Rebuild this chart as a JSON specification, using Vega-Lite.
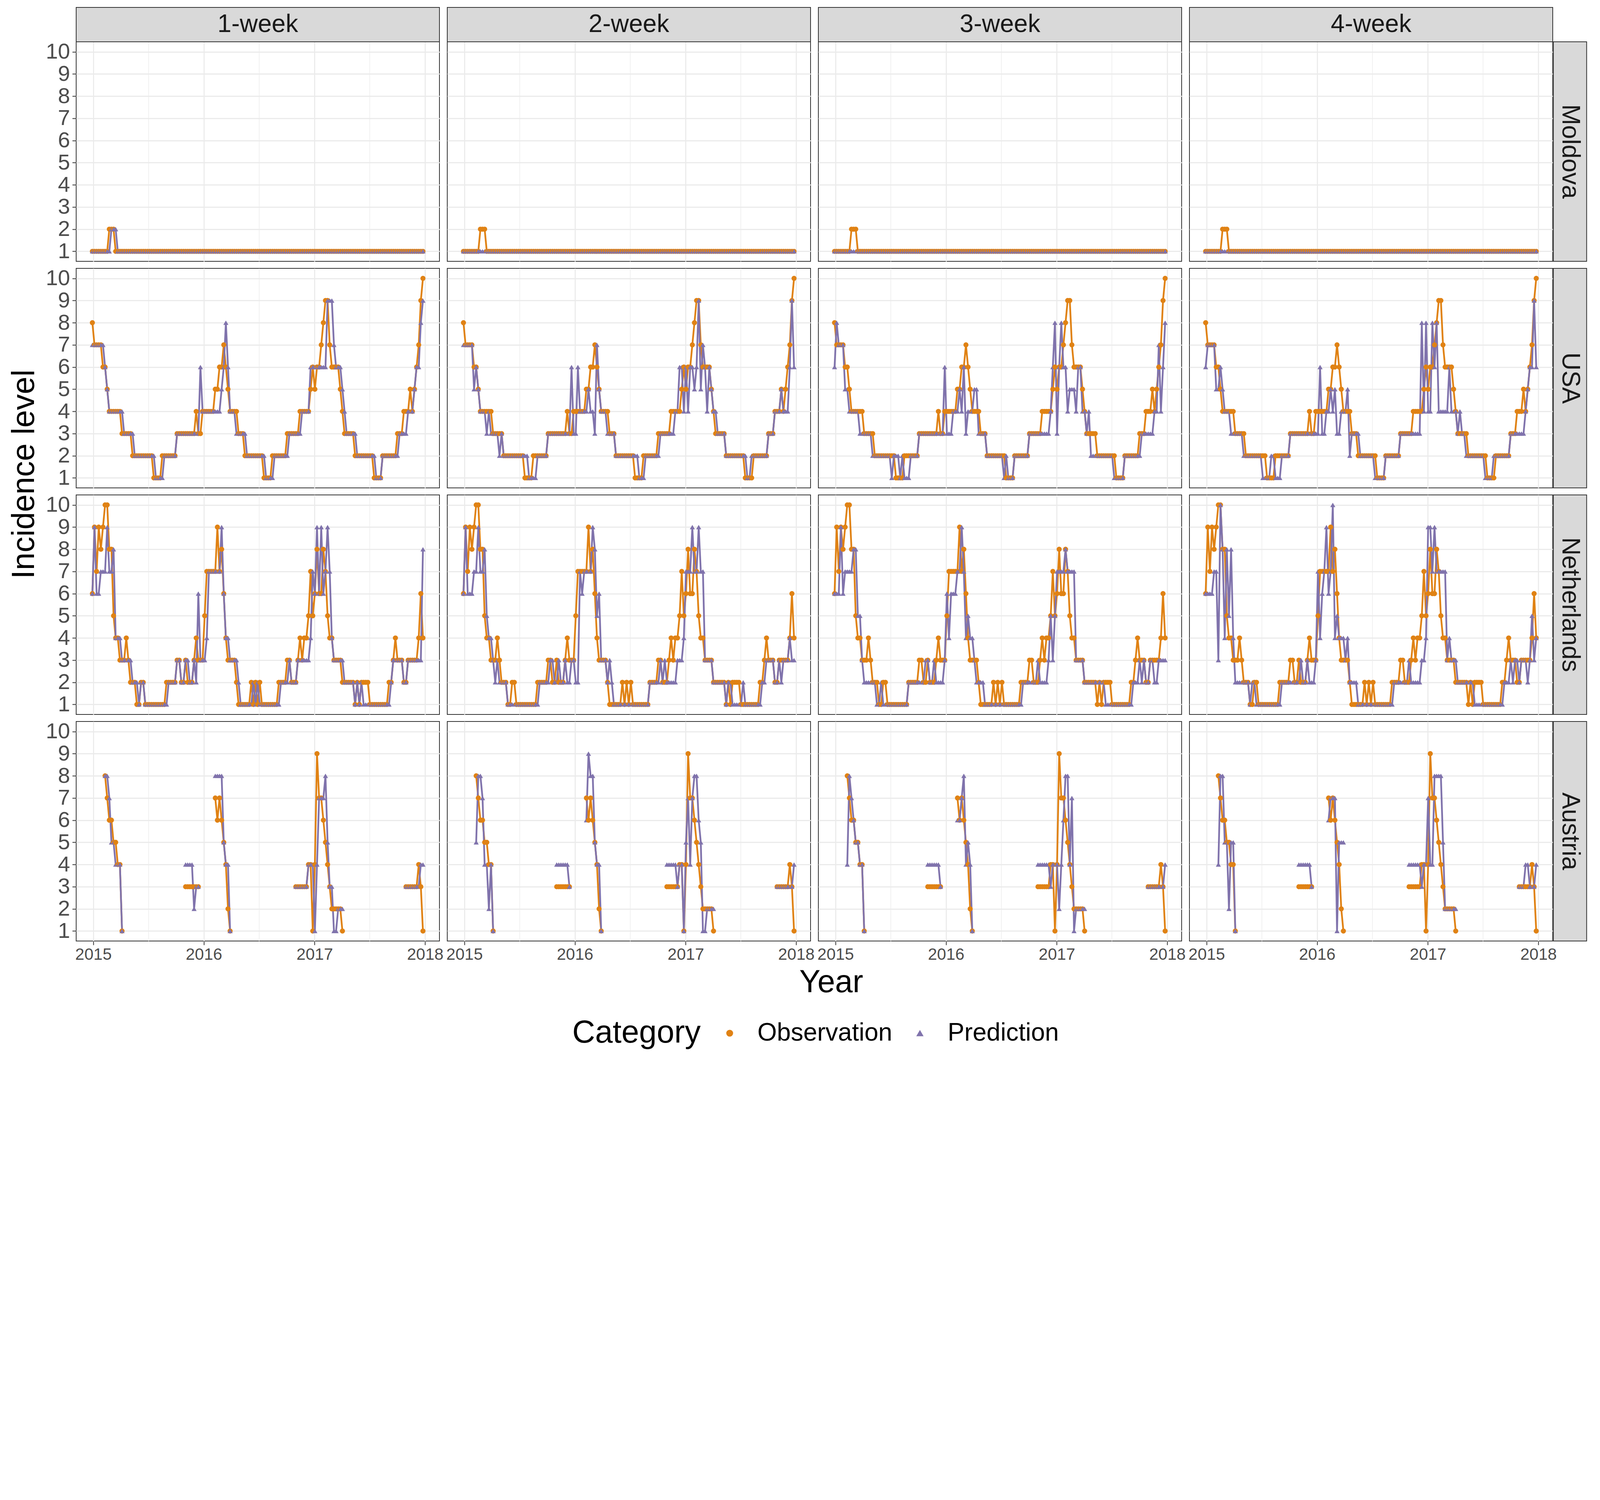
{
"$schema": "https://vega.github.io/schema/vega-lite/v6.json",
"background": "white",
"padding": {"left": 21, "top": 17, "right": 10, "bottom": 10},
"data": {"values": [
{"r":"M","d":"2014-12-29","o":1,"p1":1,"p2":1,"p3":1,"p4":1},
{"r":"M","d":"2015-01-05","o":1,"p1":1,"p2":1,"p3":1,"p4":1},
{"r":"M","d":"2015-01-12","o":1,"p1":1,"p2":1,"p3":1,"p4":1},
{"r":"M","d":"2015-01-19","o":1,"p1":1,"p2":1,"p3":1,"p4":1},
{"r":"M","d":"2015-01-26","o":1,"p1":1,"p2":1,"p3":1,"p4":1},
{"r":"M","d":"2015-02-02","o":1,"p1":1,"p2":1,"p3":1,"p4":1},
{"r":"M","d":"2015-02-09","o":1,"p1":1,"p2":1,"p3":1,"p4":1},
{"r":"M","d":"2015-02-16","o":1,"p1":1,"p2":1,"p3":1,"p4":1},
{"r":"M","d":"2015-02-23","o":2,"p1":1,"p2":1,"p3":1,"p4":1},
{"r":"M","d":"2015-03-02","o":2,"p1":2,"p2":1,"p3":1,"p4":1},
{"r":"M","d":"2015-03-09","o":2,"p1":2,"p2":1,"p3":1,"p4":1},
{"r":"M","d":"2015-03-16","o":1,"p1":2,"p2":1,"p3":1,"p4":1},
{"r":"M","d":"2015-03-23","o":1,"p1":1,"p2":1,"p3":1,"p4":1},
{"r":"M","d":"2015-03-30","o":1,"p1":1,"p2":1,"p3":1,"p4":1},
{"r":"M","d":"2015-04-06","o":1,"p1":1,"p2":1,"p3":1,"p4":1},
{"r":"M","d":"2015-04-13","o":1,"p1":1,"p2":1,"p3":1,"p4":1},
{"r":"M","d":"2015-04-20","o":1,"p1":1,"p2":1,"p3":1,"p4":1},
{"r":"M","d":"2015-04-27","o":1,"p1":1,"p2":1,"p3":1,"p4":1},
{"r":"M","d":"2015-05-04","o":1,"p1":1,"p2":1,"p3":1,"p4":1},
{"r":"M","d":"2015-05-11","o":1,"p1":1,"p2":1,"p3":1,"p4":1},
{"r":"M","d":"2015-05-18","o":1,"p1":1,"p2":1,"p3":1,"p4":1},
{"r":"M","d":"2015-05-25","o":1,"p1":1,"p2":1,"p3":1,"p4":1},
{"r":"M","d":"2015-06-01","o":1,"p1":1,"p2":1,"p3":1,"p4":1},
{"r":"M","d":"2015-06-08","o":1,"p1":1,"p2":1,"p3":1,"p4":1},
{"r":"M","d":"2015-06-15","o":1,"p1":1,"p2":1,"p3":1,"p4":1},
{"r":"M","d":"2015-06-22","o":1,"p1":1,"p2":1,"p3":1,"p4":1},
{"r":"M","d":"2015-06-29","o":1,"p1":1,"p2":1,"p3":1,"p4":1},
{"r":"M","d":"2015-07-06","o":1,"p1":1,"p2":1,"p3":1,"p4":1},
{"r":"M","d":"2015-07-13","o":1,"p1":1,"p2":1,"p3":1,"p4":1},
{"r":"M","d":"2015-07-20","o":1,"p1":1,"p2":1,"p3":1,"p4":1},
{"r":"M","d":"2015-07-27","o":1,"p1":1,"p2":1,"p3":1,"p4":1},
{"r":"M","d":"2015-08-03","o":1,"p1":1,"p2":1,"p3":1,"p4":1},
{"r":"M","d":"2015-08-10","o":1,"p1":1,"p2":1,"p3":1,"p4":1},
{"r":"M","d":"2015-08-17","o":1,"p1":1,"p2":1,"p3":1,"p4":1},
{"r":"M","d":"2015-08-24","o":1,"p1":1,"p2":1,"p3":1,"p4":1},
{"r":"M","d":"2015-08-31","o":1,"p1":1,"p2":1,"p3":1,"p4":1},
{"r":"M","d":"2015-09-07","o":1,"p1":1,"p2":1,"p3":1,"p4":1},
{"r":"M","d":"2015-09-14","o":1,"p1":1,"p2":1,"p3":1,"p4":1},
{"r":"M","d":"2015-09-21","o":1,"p1":1,"p2":1,"p3":1,"p4":1},
{"r":"M","d":"2015-09-28","o":1,"p1":1,"p2":1,"p3":1,"p4":1},
{"r":"M","d":"2015-10-05","o":1,"p1":1,"p2":1,"p3":1,"p4":1},
{"r":"M","d":"2015-10-12","o":1,"p1":1,"p2":1,"p3":1,"p4":1},
{"r":"M","d":"2015-10-19","o":1,"p1":1,"p2":1,"p3":1,"p4":1},
{"r":"M","d":"2015-10-26","o":1,"p1":1,"p2":1,"p3":1,"p4":1},
{"r":"M","d":"2015-11-02","o":1,"p1":1,"p2":1,"p3":1,"p4":1},
{"r":"M","d":"2015-11-09","o":1,"p1":1,"p2":1,"p3":1,"p4":1},
{"r":"M","d":"2015-11-16","o":1,"p1":1,"p2":1,"p3":1,"p4":1},
{"r":"M","d":"2015-11-23","o":1,"p1":1,"p2":1,"p3":1,"p4":1},
{"r":"M","d":"2015-11-30","o":1,"p1":1,"p2":1,"p3":1,"p4":1},
{"r":"M","d":"2015-12-07","o":1,"p1":1,"p2":1,"p3":1,"p4":1},
{"r":"M","d":"2015-12-14","o":1,"p1":1,"p2":1,"p3":1,"p4":1},
{"r":"M","d":"2015-12-21","o":1,"p1":1,"p2":1,"p3":1,"p4":1},
{"r":"M","d":"2015-12-28","o":1,"p1":1,"p2":1,"p3":1,"p4":1},
{"r":"M","d":"2016-01-04","o":1,"p1":1,"p2":1,"p3":1,"p4":1},
{"r":"M","d":"2016-01-11","o":1,"p1":1,"p2":1,"p3":1,"p4":1},
{"r":"M","d":"2016-01-18","o":1,"p1":1,"p2":1,"p3":1,"p4":1},
{"r":"M","d":"2016-01-25","o":1,"p1":1,"p2":1,"p3":1,"p4":1},
{"r":"M","d":"2016-02-01","o":1,"p1":1,"p2":1,"p3":1,"p4":1},
{"r":"M","d":"2016-02-08","o":1,"p1":1,"p2":1,"p3":1,"p4":1},
{"r":"M","d":"2016-02-15","o":1,"p1":1,"p2":1,"p3":1,"p4":1},
{"r":"M","d":"2016-02-22","o":1,"p1":1,"p2":1,"p3":1,"p4":1},
{"r":"M","d":"2016-02-29","o":1,"p1":1,"p2":1,"p3":1,"p4":1},
{"r":"M","d":"2016-03-07","o":1,"p1":1,"p2":1,"p3":1,"p4":1},
{"r":"M","d":"2016-03-14","o":1,"p1":1,"p2":1,"p3":1,"p4":1},
{"r":"M","d":"2016-03-21","o":1,"p1":1,"p2":1,"p3":1,"p4":1},
{"r":"M","d":"2016-03-28","o":1,"p1":1,"p2":1,"p3":1,"p4":1},
{"r":"M","d":"2016-04-04","o":1,"p1":1,"p2":1,"p3":1,"p4":1},
{"r":"M","d":"2016-04-11","o":1,"p1":1,"p2":1,"p3":1,"p4":1},
{"r":"M","d":"2016-04-18","o":1,"p1":1,"p2":1,"p3":1,"p4":1},
{"r":"M","d":"2016-04-25","o":1,"p1":1,"p2":1,"p3":1,"p4":1},
{"r":"M","d":"2016-05-02","o":1,"p1":1,"p2":1,"p3":1,"p4":1},
{"r":"M","d":"2016-05-09","o":1,"p1":1,"p2":1,"p3":1,"p4":1},
{"r":"M","d":"2016-05-16","o":1,"p1":1,"p2":1,"p3":1,"p4":1},
{"r":"M","d":"2016-05-23","o":1,"p1":1,"p2":1,"p3":1,"p4":1},
{"r":"M","d":"2016-05-30","o":1,"p1":1,"p2":1,"p3":1,"p4":1},
{"r":"M","d":"2016-06-06","o":1,"p1":1,"p2":1,"p3":1,"p4":1},
{"r":"M","d":"2016-06-13","o":1,"p1":1,"p2":1,"p3":1,"p4":1},
{"r":"M","d":"2016-06-20","o":1,"p1":1,"p2":1,"p3":1,"p4":1},
{"r":"M","d":"2016-06-27","o":1,"p1":1,"p2":1,"p3":1,"p4":1},
{"r":"M","d":"2016-07-04","o":1,"p1":1,"p2":1,"p3":1,"p4":1},
{"r":"M","d":"2016-07-11","o":1,"p1":1,"p2":1,"p3":1,"p4":1},
{"r":"M","d":"2016-07-18","o":1,"p1":1,"p2":1,"p3":1,"p4":1},
{"r":"M","d":"2016-07-25","o":1,"p1":1,"p2":1,"p3":1,"p4":1},
{"r":"M","d":"2016-08-01","o":1,"p1":1,"p2":1,"p3":1,"p4":1},
{"r":"M","d":"2016-08-08","o":1,"p1":1,"p2":1,"p3":1,"p4":1},
{"r":"M","d":"2016-08-15","o":1,"p1":1,"p2":1,"p3":1,"p4":1},
{"r":"M","d":"2016-08-22","o":1,"p1":1,"p2":1,"p3":1,"p4":1},
{"r":"M","d":"2016-08-29","o":1,"p1":1,"p2":1,"p3":1,"p4":1},
{"r":"M","d":"2016-09-05","o":1,"p1":1,"p2":1,"p3":1,"p4":1},
{"r":"M","d":"2016-09-12","o":1,"p1":1,"p2":1,"p3":1,"p4":1},
{"r":"M","d":"2016-09-19","o":1,"p1":1,"p2":1,"p3":1,"p4":1},
{"r":"M","d":"2016-09-26","o":1,"p1":1,"p2":1,"p3":1,"p4":1},
{"r":"M","d":"2016-10-03","o":1,"p1":1,"p2":1,"p3":1,"p4":1},
{"r":"M","d":"2016-10-10","o":1,"p1":1,"p2":1,"p3":1,"p4":1},
{"r":"M","d":"2016-10-17","o":1,"p1":1,"p2":1,"p3":1,"p4":1},
{"r":"M","d":"2016-10-24","o":1,"p1":1,"p2":1,"p3":1,"p4":1},
{"r":"M","d":"2016-10-31","o":1,"p1":1,"p2":1,"p3":1,"p4":1},
{"r":"M","d":"2016-11-07","o":1,"p1":1,"p2":1,"p3":1,"p4":1},
{"r":"M","d":"2016-11-14","o":1,"p1":1,"p2":1,"p3":1,"p4":1},
{"r":"M","d":"2016-11-21","o":1,"p1":1,"p2":1,"p3":1,"p4":1},
{"r":"M","d":"2016-11-28","o":1,"p1":1,"p2":1,"p3":1,"p4":1},
{"r":"M","d":"2016-12-05","o":1,"p1":1,"p2":1,"p3":1,"p4":1},
{"r":"M","d":"2016-12-12","o":1,"p1":1,"p2":1,"p3":1,"p4":1},
{"r":"M","d":"2016-12-19","o":1,"p1":1,"p2":1,"p3":1,"p4":1},
{"r":"M","d":"2016-12-26","o":1,"p1":1,"p2":1,"p3":1,"p4":1},
{"r":"M","d":"2017-01-02","o":1,"p1":1,"p2":1,"p3":1,"p4":1},
{"r":"M","d":"2017-01-09","o":1,"p1":1,"p2":1,"p3":1,"p4":1},
{"r":"M","d":"2017-01-16","o":1,"p1":1,"p2":1,"p3":1,"p4":1},
{"r":"M","d":"2017-01-23","o":1,"p1":1,"p2":1,"p3":1,"p4":1},
{"r":"M","d":"2017-01-30","o":1,"p1":1,"p2":1,"p3":1,"p4":1},
{"r":"M","d":"2017-02-06","o":1,"p1":1,"p2":1,"p3":1,"p4":1},
{"r":"M","d":"2017-02-13","o":1,"p1":1,"p2":1,"p3":1,"p4":1},
{"r":"M","d":"2017-02-20","o":1,"p1":1,"p2":1,"p3":1,"p4":1},
{"r":"M","d":"2017-02-27","o":1,"p1":1,"p2":1,"p3":1,"p4":1},
{"r":"M","d":"2017-03-06","o":1,"p1":1,"p2":1,"p3":1,"p4":1},
{"r":"M","d":"2017-03-13","o":1,"p1":1,"p2":1,"p3":1,"p4":1},
{"r":"M","d":"2017-03-20","o":1,"p1":1,"p2":1,"p3":1,"p4":1},
{"r":"M","d":"2017-03-27","o":1,"p1":1,"p2":1,"p3":1,"p4":1},
{"r":"M","d":"2017-04-03","o":1,"p1":1,"p2":1,"p3":1,"p4":1},
{"r":"M","d":"2017-04-10","o":1,"p1":1,"p2":1,"p3":1,"p4":1},
{"r":"M","d":"2017-04-17","o":1,"p1":1,"p2":1,"p3":1,"p4":1},
{"r":"M","d":"2017-04-24","o":1,"p1":1,"p2":1,"p3":1,"p4":1},
{"r":"M","d":"2017-05-01","o":1,"p1":1,"p2":1,"p3":1,"p4":1},
{"r":"M","d":"2017-05-08","o":1,"p1":1,"p2":1,"p3":1,"p4":1},
{"r":"M","d":"2017-05-15","o":1,"p1":1,"p2":1,"p3":1,"p4":1},
{"r":"M","d":"2017-05-22","o":1,"p1":1,"p2":1,"p3":1,"p4":1},
{"r":"M","d":"2017-05-29","o":1,"p1":1,"p2":1,"p3":1,"p4":1},
{"r":"M","d":"2017-06-05","o":1,"p1":1,"p2":1,"p3":1,"p4":1},
{"r":"M","d":"2017-06-12","o":1,"p1":1,"p2":1,"p3":1,"p4":1},
{"r":"M","d":"2017-06-19","o":1,"p1":1,"p2":1,"p3":1,"p4":1},
{"r":"M","d":"2017-06-26","o":1,"p1":1,"p2":1,"p3":1,"p4":1},
{"r":"M","d":"2017-07-03","o":1,"p1":1,"p2":1,"p3":1,"p4":1},
{"r":"M","d":"2017-07-10","o":1,"p1":1,"p2":1,"p3":1,"p4":1},
{"r":"M","d":"2017-07-17","o":1,"p1":1,"p2":1,"p3":1,"p4":1},
{"r":"M","d":"2017-07-24","o":1,"p1":1,"p2":1,"p3":1,"p4":1},
{"r":"M","d":"2017-07-31","o":1,"p1":1,"p2":1,"p3":1,"p4":1},
{"r":"M","d":"2017-08-07","o":1,"p1":1,"p2":1,"p3":1,"p4":1},
{"r":"M","d":"2017-08-14","o":1,"p1":1,"p2":1,"p3":1,"p4":1},
{"r":"M","d":"2017-08-21","o":1,"p1":1,"p2":1,"p3":1,"p4":1},
{"r":"M","d":"2017-08-28","o":1,"p1":1,"p2":1,"p3":1,"p4":1},
{"r":"M","d":"2017-09-04","o":1,"p1":1,"p2":1,"p3":1,"p4":1},
{"r":"M","d":"2017-09-11","o":1,"p1":1,"p2":1,"p3":1,"p4":1},
{"r":"M","d":"2017-09-18","o":1,"p1":1,"p2":1,"p3":1,"p4":1},
{"r":"M","d":"2017-09-25","o":1,"p1":1,"p2":1,"p3":1,"p4":1},
{"r":"M","d":"2017-10-02","o":1,"p1":1,"p2":1,"p3":1,"p4":1},
{"r":"M","d":"2017-10-09","o":1,"p1":1,"p2":1,"p3":1,"p4":1},
{"r":"M","d":"2017-10-16","o":1,"p1":1,"p2":1,"p3":1,"p4":1},
{"r":"M","d":"2017-10-23","o":1,"p1":1,"p2":1,"p3":1,"p4":1},
{"r":"M","d":"2017-10-30","o":1,"p1":1,"p2":1,"p3":1,"p4":1},
{"r":"M","d":"2017-11-06","o":1,"p1":1,"p2":1,"p3":1,"p4":1},
{"r":"M","d":"2017-11-13","o":1,"p1":1,"p2":1,"p3":1,"p4":1},
{"r":"M","d":"2017-11-20","o":1,"p1":1,"p2":1,"p3":1,"p4":1},
{"r":"M","d":"2017-11-27","o":1,"p1":1,"p2":1,"p3":1,"p4":1},
{"r":"M","d":"2017-12-04","o":1,"p1":1,"p2":1,"p3":1,"p4":1},
{"r":"M","d":"2017-12-11","o":1,"p1":1,"p2":1,"p3":1,"p4":1},
{"r":"M","d":"2017-12-18","o":1,"p1":1,"p2":1,"p3":1,"p4":1},
{"r":"M","d":"2017-12-25","o":1,"p1":1,"p2":1,"p3":1,"p4":1},
{"r":"U","d":"2014-12-29","o":8,"p1":7,"p2":7,"p3":6,"p4":6},
{"r":"U","d":"2015-01-05","o":7,"p1":7,"p2":7,"p3":8,"p4":7},
{"r":"U","d":"2015-01-12","o":7,"p1":7,"p2":7,"p3":7,"p4":7},
{"r":"U","d":"2015-01-19","o":7,"p1":7,"p2":7,"p3":7,"p4":7},
{"r":"U","d":"2015-01-26","o":7,"p1":7,"p2":7,"p3":7,"p4":7},
{"r":"U","d":"2015-02-02","o":6,"p1":7,"p2":5,"p3":5,"p4":5},
{"r":"U","d":"2015-02-09","o":6,"p1":6,"p2":6,"p3":5,"p4":5},
{"r":"U","d":"2015-02-16","o":5,"p1":5,"p2":5,"p3":4,"p4":6},
{"r":"U","d":"2015-02-23","o":4,"p1":4,"p2":4,"p3":4,"p4":5},
{"r":"U","d":"2015-03-02","o":4,"p1":4,"p2":4,"p3":4,"p4":4},
{"r":"U","d":"2015-03-09","o":4,"p1":4,"p2":4,"p3":4,"p4":4},
{"r":"U","d":"2015-03-16","o":4,"p1":4,"p2":3,"p3":4,"p4":4},
{"r":"U","d":"2015-03-23","o":4,"p1":4,"p2":4,"p3":3,"p4":3},
{"r":"U","d":"2015-03-30","o":4,"p1":4,"p2":3,"p3":3,"p4":3},
{"r":"U","d":"2015-04-06","o":3,"p1":4,"p2":3,"p3":3,"p4":3},
{"r":"U","d":"2015-04-13","o":3,"p1":3,"p2":3,"p3":3,"p4":3},
{"r":"U","d":"2015-04-20","o":3,"p1":3,"p2":3,"p3":3,"p4":3},
{"r":"U","d":"2015-04-27","o":3,"p1":3,"p2":2,"p3":3,"p4":3},
{"r":"U","d":"2015-05-04","o":3,"p1":3,"p2":3,"p3":2,"p4":2},
{"r":"U","d":"2015-05-11","o":2,"p1":3,"p2":2,"p3":2,"p4":2},
{"r":"U","d":"2015-05-18","o":2,"p1":2,"p2":2,"p3":2,"p4":2},
{"r":"U","d":"2015-05-25","o":2,"p1":2,"p2":2,"p3":2,"p4":2},
{"r":"U","d":"2015-06-01","o":2,"p1":2,"p2":2,"p3":2,"p4":2},
{"r":"U","d":"2015-06-08","o":2,"p1":2,"p2":2,"p3":2,"p4":2},
{"r":"U","d":"2015-06-15","o":2,"p1":2,"p2":2,"p3":2,"p4":2},
{"r":"U","d":"2015-06-22","o":2,"p1":2,"p2":2,"p3":2,"p4":2},
{"r":"U","d":"2015-06-29","o":2,"p1":2,"p2":2,"p3":2,"p4":2},
{"r":"U","d":"2015-07-06","o":2,"p1":2,"p2":2,"p3":1,"p4":1},
{"r":"U","d":"2015-07-13","o":2,"p1":2,"p2":2,"p3":2,"p4":1},
{"r":"U","d":"2015-07-20","o":1,"p1":2,"p2":2,"p3":2,"p4":1},
{"r":"U","d":"2015-07-27","o":1,"p1":1,"p2":2,"p3":2,"p4":1},
{"r":"U","d":"2015-08-03","o":1,"p1":1,"p2":1,"p3":1,"p4":2},
{"r":"U","d":"2015-08-10","o":1,"p1":1,"p2":1,"p3":2,"p4":2},
{"r":"U","d":"2015-08-17","o":2,"p1":1,"p2":1,"p3":1,"p4":1},
{"r":"U","d":"2015-08-24","o":2,"p1":2,"p2":1,"p3":1,"p4":1},
{"r":"U","d":"2015-08-31","o":2,"p1":2,"p2":2,"p3":1,"p4":1},
{"r":"U","d":"2015-09-07","o":2,"p1":2,"p2":2,"p3":2,"p4":2},
{"r":"U","d":"2015-09-14","o":2,"p1":2,"p2":2,"p3":2,"p4":2},
{"r":"U","d":"2015-09-21","o":2,"p1":2,"p2":2,"p3":2,"p4":2},
{"r":"U","d":"2015-09-28","o":2,"p1":2,"p2":2,"p3":2,"p4":2},
{"r":"U","d":"2015-10-05","o":3,"p1":3,"p2":3,"p3":3,"p4":3},
{"r":"U","d":"2015-10-12","o":3,"p1":3,"p2":3,"p3":3,"p4":3},
{"r":"U","d":"2015-10-19","o":3,"p1":3,"p2":3,"p3":3,"p4":3},
{"r":"U","d":"2015-10-26","o":3,"p1":3,"p2":3,"p3":3,"p4":3},
{"r":"U","d":"2015-11-02","o":3,"p1":3,"p2":3,"p3":3,"p4":3},
{"r":"U","d":"2015-11-09","o":3,"p1":3,"p2":3,"p3":3,"p4":3},
{"r":"U","d":"2015-11-16","o":3,"p1":3,"p2":3,"p3":3,"p4":3},
{"r":"U","d":"2015-11-23","o":3,"p1":3,"p2":3,"p3":3,"p4":3},
{"r":"U","d":"2015-11-30","o":3,"p1":3,"p2":3,"p3":3,"p4":3},
{"r":"U","d":"2015-12-07","o":4,"p1":3,"p2":3,"p3":3,"p4":3},
{"r":"U","d":"2015-12-14","o":3,"p1":3,"p2":3,"p3":3,"p4":3},
{"r":"U","d":"2015-12-21","o":3,"p1":6,"p2":6,"p3":3,"p4":3},
{"r":"U","d":"2015-12-28","o":4,"p1":4,"p2":3,"p3":6,"p4":3},
{"r":"U","d":"2016-01-04","o":4,"p1":4,"p2":3,"p3":3,"p4":3},
{"r":"U","d":"2016-01-11","o":4,"p1":4,"p2":6,"p3":3,"p4":6},
{"r":"U","d":"2016-01-18","o":4,"p1":4,"p2":4,"p3":3,"p4":3},
{"r":"U","d":"2016-01-25","o":4,"p1":4,"p2":4,"p3":4,"p4":3},
{"r":"U","d":"2016-02-01","o":4,"p1":4,"p2":4,"p3":4,"p4":4},
{"r":"U","d":"2016-02-08","o":5,"p1":4,"p2":4,"p3":4,"p4":4},
{"r":"U","d":"2016-02-15","o":5,"p1":4,"p2":5,"p3":5,"p4":5},
{"r":"U","d":"2016-02-22","o":6,"p1":4,"p2":4,"p3":4,"p4":4},
{"r":"U","d":"2016-02-29","o":6,"p1":5,"p2":4,"p3":6,"p4":5},
{"r":"U","d":"2016-03-07","o":7,"p1":6,"p2":3,"p3":3,"p4":3},
{"r":"U","d":"2016-03-14","o":6,"p1":8,"p2":7,"p3":4,"p4":3},
{"r":"U","d":"2016-03-21","o":5,"p1":6,"p2":5,"p3":4,"p4":4},
{"r":"U","d":"2016-03-28","o":4,"p1":4,"p2":4,"p3":4,"p4":4},
{"r":"U","d":"2016-04-04","o":4,"p1":4,"p2":4,"p3":5,"p4":4},
{"r":"U","d":"2016-04-11","o":4,"p1":4,"p2":4,"p3":5,"p4":5},
{"r":"U","d":"2016-04-18","o":4,"p1":3,"p2":3,"p3":3,"p4":2},
{"r":"U","d":"2016-04-25","o":3,"p1":3,"p2":3,"p3":3,"p4":3},
{"r":"U","d":"2016-05-02","o":3,"p1":3,"p2":3,"p3":3,"p4":3},
{"r":"U","d":"2016-05-09","o":3,"p1":3,"p2":3,"p3":3,"p4":3},
{"r":"U","d":"2016-05-16","o":2,"p1":3,"p2":2,"p3":2,"p4":3},
{"r":"U","d":"2016-05-23","o":2,"p1":2,"p2":2,"p3":2,"p4":2},
{"r":"U","d":"2016-05-30","o":2,"p1":2,"p2":2,"p3":2,"p4":2},
{"r":"U","d":"2016-06-06","o":2,"p1":2,"p2":2,"p3":2,"p4":2},
{"r":"U","d":"2016-06-13","o":2,"p1":2,"p2":2,"p3":2,"p4":2},
{"r":"U","d":"2016-06-20","o":2,"p1":2,"p2":2,"p3":2,"p4":2},
{"r":"U","d":"2016-06-27","o":2,"p1":2,"p2":2,"p3":2,"p4":2},
{"r":"U","d":"2016-07-04","o":2,"p1":2,"p2":2,"p3":2,"p4":2},
{"r":"U","d":"2016-07-11","o":2,"p1":2,"p2":2,"p3":1,"p4":1},
{"r":"U","d":"2016-07-18","o":1,"p1":2,"p2":2,"p3":2,"p4":1},
{"r":"U","d":"2016-07-25","o":1,"p1":1,"p2":2,"p3":1,"p4":1},
{"r":"U","d":"2016-08-01","o":1,"p1":1,"p2":1,"p3":1,"p4":1},
{"r":"U","d":"2016-08-08","o":1,"p1":1,"p2":1,"p3":1,"p4":1},
{"r":"U","d":"2016-08-15","o":2,"p1":1,"p2":1,"p3":2,"p4":2},
{"r":"U","d":"2016-08-22","o":2,"p1":2,"p2":2,"p3":2,"p4":2},
{"r":"U","d":"2016-08-29","o":2,"p1":2,"p2":2,"p3":2,"p4":2},
{"r":"U","d":"2016-09-05","o":2,"p1":2,"p2":2,"p3":2,"p4":2},
{"r":"U","d":"2016-09-12","o":2,"p1":2,"p2":2,"p3":2,"p4":2},
{"r":"U","d":"2016-09-19","o":2,"p1":2,"p2":2,"p3":2,"p4":2},
{"r":"U","d":"2016-09-26","o":2,"p1":2,"p2":2,"p3":2,"p4":2},
{"r":"U","d":"2016-10-03","o":3,"p1":2,"p2":2,"p3":3,"p4":3},
{"r":"U","d":"2016-10-10","o":3,"p1":3,"p2":3,"p3":3,"p4":3},
{"r":"U","d":"2016-10-17","o":3,"p1":3,"p2":3,"p3":3,"p4":3},
{"r":"U","d":"2016-10-24","o":3,"p1":3,"p2":3,"p3":3,"p4":3},
{"r":"U","d":"2016-10-31","o":3,"p1":3,"p2":3,"p3":3,"p4":3},
{"r":"U","d":"2016-11-07","o":3,"p1":3,"p2":3,"p3":3,"p4":3},
{"r":"U","d":"2016-11-14","o":4,"p1":3,"p2":3,"p3":3,"p4":3},
{"r":"U","d":"2016-11-21","o":4,"p1":4,"p2":3,"p3":3,"p4":3},
{"r":"U","d":"2016-11-28","o":4,"p1":4,"p2":4,"p3":3,"p4":3},
{"r":"U","d":"2016-12-05","o":4,"p1":4,"p2":4,"p3":3,"p4":3},
{"r":"U","d":"2016-12-12","o":4,"p1":4,"p2":6,"p3":4,"p4":8},
{"r":"U","d":"2016-12-19","o":5,"p1":6,"p2":6,"p3":6,"p4":4},
{"r":"U","d":"2016-12-26","o":6,"p1":6,"p2":4,"p3":8,"p4":8},
{"r":"U","d":"2017-01-02","o":5,"p1":6,"p2":6,"p3":3,"p4":4},
{"r":"U","d":"2017-01-09","o":6,"p1":6,"p2":4,"p3":6,"p4":4},
{"r":"U","d":"2017-01-16","o":6,"p1":6,"p2":6,"p3":8,"p4":8},
{"r":"U","d":"2017-01-23","o":7,"p1":6,"p2":6,"p3":6,"p4":6},
{"r":"U","d":"2017-01-30","o":8,"p1":6,"p2":5,"p3":6,"p4":8},
{"r":"U","d":"2017-02-06","o":9,"p1":6,"p2":6,"p3":4,"p4":4},
{"r":"U","d":"2017-02-13","o":9,"p1":9,"p2":9,"p3":5,"p4":4},
{"r":"U","d":"2017-02-20","o":7,"p1":9,"p2":5,"p3":5,"p4":4},
{"r":"U","d":"2017-02-27","o":6,"p1":9,"p2":7,"p3":5,"p4":4},
{"r":"U","d":"2017-03-06","o":6,"p1":7,"p2":6,"p3":4,"p4":4},
{"r":"U","d":"2017-03-13","o":6,"p1":6,"p2":4,"p3":6,"p4":6},
{"r":"U","d":"2017-03-20","o":6,"p1":6,"p2":6,"p3":6,"p4":4},
{"r":"U","d":"2017-03-27","o":5,"p1":6,"p2":5,"p3":4,"p4":4},
{"r":"U","d":"2017-04-03","o":4,"p1":5,"p2":4,"p3":4,"p4":4},
{"r":"U","d":"2017-04-10","o":3,"p1":4,"p2":4,"p3":3,"p4":3},
{"r":"U","d":"2017-04-17","o":3,"p1":3,"p2":3,"p3":4,"p4":4},
{"r":"U","d":"2017-04-24","o":3,"p1":3,"p2":3,"p3":2,"p4":3},
{"r":"U","d":"2017-05-01","o":3,"p1":3,"p2":3,"p3":2,"p4":3},
{"r":"U","d":"2017-05-08","o":3,"p1":3,"p2":3,"p3":2,"p4":2},
{"r":"U","d":"2017-05-15","o":2,"p1":3,"p2":2,"p3":2,"p4":2},
{"r":"U","d":"2017-05-22","o":2,"p1":2,"p2":2,"p3":2,"p4":2},
{"r":"U","d":"2017-05-29","o":2,"p1":2,"p2":2,"p3":2,"p4":2},
{"r":"U","d":"2017-06-05","o":2,"p1":2,"p2":2,"p3":2,"p4":2},
{"r":"U","d":"2017-06-12","o":2,"p1":2,"p2":2,"p3":2,"p4":2},
{"r":"U","d":"2017-06-19","o":2,"p1":2,"p2":2,"p3":2,"p4":2},
{"r":"U","d":"2017-06-26","o":2,"p1":2,"p2":2,"p3":2,"p4":2},
{"r":"U","d":"2017-07-03","o":2,"p1":2,"p2":2,"p3":2,"p4":2},
{"r":"U","d":"2017-07-10","o":2,"p1":2,"p2":2,"p3":1,"p4":1},
{"r":"U","d":"2017-07-17","o":1,"p1":2,"p2":2,"p3":1,"p4":1},
{"r":"U","d":"2017-07-24","o":1,"p1":1,"p2":1,"p3":1,"p4":1},
{"r":"U","d":"2017-07-31","o":1,"p1":1,"p2":1,"p3":1,"p4":1},
{"r":"U","d":"2017-08-07","o":1,"p1":1,"p2":2,"p3":1,"p4":2},
{"r":"U","d":"2017-08-14","o":2,"p1":2,"p2":2,"p3":2,"p4":2},
{"r":"U","d":"2017-08-21","o":2,"p1":2,"p2":2,"p3":2,"p4":2},
{"r":"U","d":"2017-08-28","o":2,"p1":2,"p2":2,"p3":2,"p4":2},
{"r":"U","d":"2017-09-04","o":2,"p1":2,"p2":2,"p3":2,"p4":2},
{"r":"U","d":"2017-09-11","o":2,"p1":2,"p2":2,"p3":2,"p4":2},
{"r":"U","d":"2017-09-18","o":2,"p1":2,"p2":2,"p3":2,"p4":2},
{"r":"U","d":"2017-09-25","o":2,"p1":2,"p2":2,"p3":2,"p4":2},
{"r":"U","d":"2017-10-02","o":3,"p1":2,"p2":3,"p3":2,"p4":3},
{"r":"U","d":"2017-10-09","o":3,"p1":3,"p2":3,"p3":3,"p4":3},
{"r":"U","d":"2017-10-16","o":3,"p1":3,"p2":3,"p3":3,"p4":3},
{"r":"U","d":"2017-10-23","o":4,"p1":3,"p2":4,"p3":3,"p4":3},
{"r":"U","d":"2017-10-30","o":4,"p1":3,"p2":4,"p3":3,"p4":3},
{"r":"U","d":"2017-11-06","o":4,"p1":4,"p2":4,"p3":3,"p4":3},
{"r":"U","d":"2017-11-13","o":5,"p1":4,"p2":5,"p3":3,"p4":3},
{"r":"U","d":"2017-11-20","o":4,"p1":4,"p2":4,"p3":4,"p4":4},
{"r":"U","d":"2017-11-27","o":5,"p1":5,"p2":4,"p3":4,"p4":5},
{"r":"U","d":"2017-12-04","o":6,"p1":6,"p2":4,"p3":7,"p4":6},
{"r":"U","d":"2017-12-11","o":7,"p1":6,"p2":6,"p3":4,"p4":6},
{"r":"U","d":"2017-12-18","o":9,"p1":8,"p2":9,"p3":6,"p4":9},
{"r":"U","d":"2017-12-25","o":10,"p1":9,"p2":6,"p3":8,"p4":6},
{"r":"N","d":"2014-12-29","o":6,"p1":6,"p2":6,"p3":6,"p4":6},
{"r":"N","d":"2015-01-05","o":9,"p1":9,"p2":9,"p3":6,"p4":6},
{"r":"N","d":"2015-01-12","o":7,"p1":6,"p2":6,"p3":6,"p4":6},
{"r":"N","d":"2015-01-19","o":9,"p1":6,"p2":6,"p3":9,"p4":6},
{"r":"N","d":"2015-01-26","o":8,"p1":7,"p2":6,"p3":6,"p4":7},
{"r":"N","d":"2015-02-02","o":9,"p1":7,"p2":7,"p3":7,"p4":7},
{"r":"N","d":"2015-02-09","o":10,"p1":7,"p2":7,"p3":7,"p4":3},
{"r":"N","d":"2015-02-16","o":10,"p1":9,"p2":9,"p3":7,"p4":10},
{"r":"N","d":"2015-02-23","o":8,"p1":7,"p2":7,"p3":7,"p4":8},
{"r":"N","d":"2015-03-02","o":8,"p1":7,"p2":7,"p3":8,"p4":4},
{"r":"N","d":"2015-03-09","o":5,"p1":8,"p2":8,"p3":8,"p4":8},
{"r":"N","d":"2015-03-16","o":4,"p1":4,"p2":5,"p3":5,"p4":5},
{"r":"N","d":"2015-03-23","o":4,"p1":4,"p2":4,"p3":5,"p4":8},
{"r":"N","d":"2015-03-30","o":3,"p1":4,"p2":4,"p3":3,"p4":4},
{"r":"N","d":"2015-04-06","o":3,"p1":3,"p2":3,"p3":2,"p4":2},
{"r":"N","d":"2015-04-13","o":3,"p1":3,"p2":2,"p3":2,"p4":2},
{"r":"N","d":"2015-04-20","o":4,"p1":3,"p2":3,"p3":2,"p4":2},
{"r":"N","d":"2015-04-27","o":3,"p1":3,"p2":2,"p3":2,"p4":2},
{"r":"N","d":"2015-05-04","o":2,"p1":3,"p2":2,"p3":2,"p4":2},
{"r":"N","d":"2015-05-11","o":2,"p1":2,"p2":2,"p3":2,"p4":2},
{"r":"N","d":"2015-05-18","o":2,"p1":2,"p2":2,"p3":1,"p4":2},
{"r":"N","d":"2015-05-25","o":1,"p1":2,"p2":1,"p3":1,"p4":1},
{"r":"N","d":"2015-06-01","o":1,"p1":1,"p2":1,"p3":2,"p4":2},
{"r":"N","d":"2015-06-08","o":2,"p1":2,"p2":1,"p3":1,"p4":2},
{"r":"N","d":"2015-06-15","o":2,"p1":2,"p2":1,"p3":1,"p4":1},
{"r":"N","d":"2015-06-22","o":1,"p1":1,"p2":1,"p3":1,"p4":1},
{"r":"N","d":"2015-06-29","o":1,"p1":1,"p2":1,"p3":1,"p4":1},
{"r":"N","d":"2015-07-06","o":1,"p1":1,"p2":1,"p3":1,"p4":1},
{"r":"N","d":"2015-07-13","o":1,"p1":1,"p2":1,"p3":1,"p4":1},
{"r":"N","d":"2015-07-20","o":1,"p1":1,"p2":1,"p3":1,"p4":1},
{"r":"N","d":"2015-07-27","o":1,"p1":1,"p2":1,"p3":1,"p4":1},
{"r":"N","d":"2015-08-03","o":1,"p1":1,"p2":1,"p3":1,"p4":1},
{"r":"N","d":"2015-08-10","o":1,"p1":1,"p2":1,"p3":1,"p4":1},
{"r":"N","d":"2015-08-17","o":1,"p1":1,"p2":1,"p3":1,"p4":1},
{"r":"N","d":"2015-08-24","o":1,"p1":1,"p2":1,"p3":1,"p4":1},
{"r":"N","d":"2015-08-31","o":2,"p1":1,"p2":1,"p3":2,"p4":1},
{"r":"N","d":"2015-09-07","o":2,"p1":2,"p2":2,"p3":2,"p4":2},
{"r":"N","d":"2015-09-14","o":2,"p1":2,"p2":2,"p3":2,"p4":2},
{"r":"N","d":"2015-09-21","o":2,"p1":2,"p2":2,"p3":2,"p4":2},
{"r":"N","d":"2015-09-28","o":2,"p1":2,"p2":2,"p3":2,"p4":2},
{"r":"N","d":"2015-10-05","o":3,"p1":3,"p2":2,"p3":2,"p4":2},
{"r":"N","d":"2015-10-12","o":3,"p1":3,"p2":3,"p3":2,"p4":2},
{"r":"N","d":"2015-10-19","o":2,"p1":2,"p2":3,"p3":2,"p4":2},
{"r":"N","d":"2015-10-26","o":2,"p1":2,"p2":2,"p3":3,"p4":2},
{"r":"N","d":"2015-11-02","o":3,"p1":3,"p2":2,"p3":3,"p4":2},
{"r":"N","d":"2015-11-09","o":2,"p1":3,"p2":3,"p3":2,"p4":3},
{"r":"N","d":"2015-11-16","o":2,"p1":2,"p2":2,"p3":2,"p4":2},
{"r":"N","d":"2015-11-23","o":2,"p1":2,"p2":2,"p3":3,"p4":2},
{"r":"N","d":"2015-11-30","o":3,"p1":3,"p2":3,"p3":2,"p4":3},
{"r":"N","d":"2015-12-07","o":4,"p1":2,"p2":2,"p3":2,"p4":2},
{"r":"N","d":"2015-12-14","o":3,"p1":6,"p2":2,"p3":2,"p4":2},
{"r":"N","d":"2015-12-21","o":3,"p1":3,"p2":3,"p3":2,"p4":2},
{"r":"N","d":"2015-12-28","o":3,"p1":3,"p2":3,"p3":3,"p4":3},
{"r":"N","d":"2016-01-04","o":5,"p1":3,"p2":2,"p3":6,"p4":7},
{"r":"N","d":"2016-01-11","o":7,"p1":4,"p2":2,"p3":4,"p4":4},
{"r":"N","d":"2016-01-18","o":7,"p1":7,"p2":7,"p3":6,"p4":6},
{"r":"N","d":"2016-01-25","o":7,"p1":7,"p2":6,"p3":6,"p4":7},
{"r":"N","d":"2016-02-01","o":7,"p1":7,"p2":7,"p3":6,"p4":9},
{"r":"N","d":"2016-02-08","o":7,"p1":7,"p2":7,"p3":7,"p4":6},
{"r":"N","d":"2016-02-15","o":9,"p1":7,"p2":7,"p3":7,"p4":7},
{"r":"N","d":"2016-02-22","o":7,"p1":7,"p2":7,"p3":9,"p4":10},
{"r":"N","d":"2016-02-29","o":8,"p1":9,"p2":9,"p3":7,"p4":4},
{"r":"N","d":"2016-03-07","o":6,"p1":6,"p2":8,"p3":4,"p4":5},
{"r":"N","d":"2016-03-14","o":4,"p1":4,"p2":5,"p3":5,"p4":4},
{"r":"N","d":"2016-03-21","o":3,"p1":4,"p2":6,"p3":4,"p4":4},
{"r":"N","d":"2016-03-28","o":3,"p1":3,"p2":3,"p3":4,"p4":4},
{"r":"N","d":"2016-04-04","o":3,"p1":3,"p2":3,"p3":3,"p4":3},
{"r":"N","d":"2016-04-11","o":3,"p1":3,"p2":3,"p3":2,"p4":4},
{"r":"N","d":"2016-04-18","o":2,"p1":3,"p2":2,"p3":2,"p4":2},
{"r":"N","d":"2016-04-25","o":1,"p1":2,"p2":3,"p3":2,"p4":2},
{"r":"N","d":"2016-05-02","o":1,"p1":1,"p2":2,"p3":2,"p4":2},
{"r":"N","d":"2016-05-09","o":1,"p1":1,"p2":1,"p3":1,"p4":2},
{"r":"N","d":"2016-05-16","o":1,"p1":1,"p2":1,"p3":1,"p4":1},
{"r":"N","d":"2016-05-23","o":1,"p1":1,"p2":1,"p3":1,"p4":1},
{"r":"N","d":"2016-05-30","o":1,"p1":1,"p2":1,"p3":1,"p4":1},
{"r":"N","d":"2016-06-06","o":2,"p1":1,"p2":1,"p3":1,"p4":1},
{"r":"N","d":"2016-06-13","o":1,"p1":2,"p2":1,"p3":1,"p4":1},
{"r":"N","d":"2016-06-20","o":2,"p1":1,"p2":1,"p3":1,"p4":1},
{"r":"N","d":"2016-06-27","o":1,"p1":2,"p2":1,"p3":1,"p4":1},
{"r":"N","d":"2016-07-04","o":2,"p1":1,"p2":1,"p3":1,"p4":1},
{"r":"N","d":"2016-07-11","o":1,"p1":1,"p2":1,"p3":1,"p4":1},
{"r":"N","d":"2016-07-18","o":1,"p1":1,"p2":1,"p3":1,"p4":1},
{"r":"N","d":"2016-07-25","o":1,"p1":1,"p2":1,"p3":1,"p4":1},
{"r":"N","d":"2016-08-01","o":1,"p1":1,"p2":1,"p3":1,"p4":1},
{"r":"N","d":"2016-08-08","o":1,"p1":1,"p2":1,"p3":1,"p4":1},
{"r":"N","d":"2016-08-15","o":1,"p1":1,"p2":1,"p3":1,"p4":1},
{"r":"N","d":"2016-08-22","o":1,"p1":1,"p2":1,"p3":1,"p4":1},
{"r":"N","d":"2016-08-29","o":1,"p1":1,"p2":1,"p3":1,"p4":1},
{"r":"N","d":"2016-09-05","o":2,"p1":1,"p2":2,"p3":1,"p4":1},
{"r":"N","d":"2016-09-12","o":2,"p1":2,"p2":2,"p3":2,"p4":2},
{"r":"N","d":"2016-09-19","o":2,"p1":2,"p2":2,"p3":2,"p4":2},
{"r":"N","d":"2016-09-26","o":2,"p1":2,"p2":2,"p3":2,"p4":2},
{"r":"N","d":"2016-10-03","o":3,"p1":2,"p2":2,"p3":2,"p4":2},
{"r":"N","d":"2016-10-10","o":3,"p1":3,"p2":3,"p3":2,"p4":2},
{"r":"N","d":"2016-10-17","o":2,"p1":2,"p2":2,"p3":2,"p4":2},
{"r":"N","d":"2016-10-24","o":2,"p1":2,"p2":3,"p3":2,"p4":2},
{"r":"N","d":"2016-10-31","o":2,"p1":2,"p2":2,"p3":3,"p4":3},
{"r":"N","d":"2016-11-07","o":3,"p1":3,"p2":2,"p3":2,"p4":2},
{"r":"N","d":"2016-11-14","o":4,"p1":3,"p2":2,"p3":2,"p4":2},
{"r":"N","d":"2016-11-21","o":3,"p1":3,"p2":2,"p3":2,"p4":2},
{"r":"N","d":"2016-11-28","o":4,"p1":3,"p2":2,"p3":2,"p4":2},
{"r":"N","d":"2016-12-05","o":4,"p1":3,"p2":3,"p3":3,"p4":2},
{"r":"N","d":"2016-12-12","o":5,"p1":3,"p2":3,"p3":5,"p4":3},
{"r":"N","d":"2016-12-19","o":7,"p1":4,"p2":3,"p3":3,"p4":3},
{"r":"N","d":"2016-12-26","o":5,"p1":7,"p2":4,"p3":5,"p4":4},
{"r":"N","d":"2017-01-02","o":6,"p1":6,"p2":7,"p3":7,"p4":9},
{"r":"N","d":"2017-01-09","o":8,"p1":9,"p2":7,"p3":7,"p4":9},
{"r":"N","d":"2017-01-16","o":6,"p1":6,"p2":7,"p3":7,"p4":7},
{"r":"N","d":"2017-01-23","o":6,"p1":9,"p2":9,"p3":7,"p4":9},
{"r":"N","d":"2017-01-30","o":8,"p1":6,"p2":7,"p3":8,"p4":7},
{"r":"N","d":"2017-02-06","o":7,"p1":7,"p2":7,"p3":7,"p4":7},
{"r":"N","d":"2017-02-13","o":5,"p1":9,"p2":9,"p3":7,"p4":7},
{"r":"N","d":"2017-02-20","o":4,"p1":7,"p2":7,"p3":7,"p4":7},
{"r":"N","d":"2017-02-27","o":4,"p1":4,"p2":7,"p3":7,"p4":7},
{"r":"N","d":"2017-03-06","o":3,"p1":3,"p2":3,"p3":3,"p4":3},
{"r":"N","d":"2017-03-13","o":3,"p1":3,"p2":3,"p3":3,"p4":4},
{"r":"N","d":"2017-03-20","o":3,"p1":3,"p2":3,"p3":3,"p4":3},
{"r":"N","d":"2017-03-27","o":3,"p1":3,"p2":3,"p3":3,"p4":3},
{"r":"N","d":"2017-04-03","o":2,"p1":3,"p2":2,"p3":2,"p4":3},
{"r":"N","d":"2017-04-10","o":2,"p1":2,"p2":2,"p3":2,"p4":2},
{"r":"N","d":"2017-04-17","o":2,"p1":2,"p2":2,"p3":2,"p4":2},
{"r":"N","d":"2017-04-24","o":2,"p1":2,"p2":2,"p3":2,"p4":2},
{"r":"N","d":"2017-05-01","o":2,"p1":2,"p2":2,"p3":2,"p4":2},
{"r":"N","d":"2017-05-08","o":2,"p1":2,"p2":2,"p3":2,"p4":2},
{"r":"N","d":"2017-05-15","o":1,"p1":1,"p2":1,"p3":2,"p4":2},
{"r":"N","d":"2017-05-22","o":2,"p1":2,"p2":2,"p3":2,"p4":2},
{"r":"N","d":"2017-05-29","o":1,"p1":1,"p2":2,"p3":2,"p4":2},
{"r":"N","d":"2017-06-05","o":2,"p1":2,"p2":1,"p3":2,"p4":1},
{"r":"N","d":"2017-06-12","o":2,"p1":1,"p2":1,"p3":1,"p4":1},
{"r":"N","d":"2017-06-19","o":2,"p1":1,"p2":1,"p3":1,"p4":1},
{"r":"N","d":"2017-06-26","o":2,"p1":1,"p2":1,"p3":1,"p4":1},
{"r":"N","d":"2017-07-03","o":1,"p1":1,"p2":1,"p3":1,"p4":1},
{"r":"N","d":"2017-07-10","o":1,"p1":1,"p2":2,"p3":1,"p4":1},
{"r":"N","d":"2017-07-17","o":1,"p1":1,"p2":1,"p3":1,"p4":1},
{"r":"N","d":"2017-07-24","o":1,"p1":1,"p2":1,"p3":1,"p4":1},
{"r":"N","d":"2017-07-31","o":1,"p1":1,"p2":1,"p3":1,"p4":1},
{"r":"N","d":"2017-08-07","o":1,"p1":1,"p2":1,"p3":1,"p4":1},
{"r":"N","d":"2017-08-14","o":1,"p1":1,"p2":1,"p3":1,"p4":1},
{"r":"N","d":"2017-08-21","o":1,"p1":1,"p2":1,"p3":1,"p4":1},
{"r":"N","d":"2017-08-28","o":1,"p1":1,"p2":1,"p3":1,"p4":1},
{"r":"N","d":"2017-09-04","o":2,"p1":1,"p2":1,"p3":1,"p4":1},
{"r":"N","d":"2017-09-11","o":2,"p1":2,"p2":2,"p3":2,"p4":2},
{"r":"N","d":"2017-09-18","o":3,"p1":3,"p2":2,"p3":2,"p4":2},
{"r":"N","d":"2017-09-25","o":4,"p1":3,"p2":3,"p3":2,"p4":2},
{"r":"N","d":"2017-10-02","o":3,"p1":3,"p2":3,"p3":3,"p4":3},
{"r":"N","d":"2017-10-09","o":3,"p1":3,"p2":3,"p3":2,"p4":2},
{"r":"N","d":"2017-10-16","o":3,"p1":3,"p2":3,"p3":3,"p4":3},
{"r":"N","d":"2017-10-23","o":2,"p1":2,"p2":2,"p3":2,"p4":3},
{"r":"N","d":"2017-10-30","o":2,"p1":2,"p2":2,"p3":2,"p4":2},
{"r":"N","d":"2017-11-06","o":3,"p1":3,"p2":3,"p3":3,"p4":3},
{"r":"N","d":"2017-11-13","o":3,"p1":3,"p2":2,"p3":3,"p4":3},
{"r":"N","d":"2017-11-20","o":3,"p1":3,"p2":3,"p3":2,"p4":3},
{"r":"N","d":"2017-11-27","o":3,"p1":3,"p2":3,"p3":2,"p4":2},
{"r":"N","d":"2017-12-04","o":3,"p1":3,"p2":3,"p3":3,"p4":3},
{"r":"N","d":"2017-12-11","o":4,"p1":3,"p2":4,"p3":3,"p4":5},
{"r":"N","d":"2017-12-18","o":6,"p1":3,"p2":3,"p3":3,"p4":3},
{"r":"N","d":"2017-12-25","o":4,"p1":8,"p2":3,"p3":3,"p4":4},
{"r":"A","d":"2015-02-09","o":8,"p1":8,"p2":5,"p3":4,"p4":4},
{"r":"A","d":"2015-02-16","o":7,"p1":8,"p2":8,"p3":8,"p4":8},
{"r":"A","d":"2015-02-23","o":6,"p1":7,"p2":8,"p3":7,"p4":8},
{"r":"A","d":"2015-03-02","o":6,"p1":5,"p2":7,"p3":6,"p4":5},
{"r":"A","d":"2015-03-09","o":5,"p1":5,"p2":4,"p3":5,"p4":5},
{"r":"A","d":"2015-03-16","o":5,"p1":4,"p2":4,"p3":5,"p4":2},
{"r":"A","d":"2015-03-23","o":4,"p1":4,"p2":2,"p3":4,"p4":5},
{"r":"A","d":"2015-03-30","o":4,"p1":4,"p2":4,"p3":4,"p4":5},
{"r":"A","d":"2015-04-06","o":1,"p1":1,"p2":1,"p3":1,"p4":1},
{"r":"A","d":"2015-04-13","o":null,"p1":null,"p2":null,"p3":null,"p4":null},
{"r":"A","d":"2015-11-02","o":3,"p1":4,"p2":4,"p3":4,"p4":4},
{"r":"A","d":"2015-11-09","o":3,"p1":4,"p2":4,"p3":4,"p4":4},
{"r":"A","d":"2015-11-16","o":3,"p1":4,"p2":4,"p3":4,"p4":4},
{"r":"A","d":"2015-11-23","o":3,"p1":4,"p2":4,"p3":4,"p4":4},
{"r":"A","d":"2015-11-30","o":3,"p1":2,"p2":4,"p3":4,"p4":4},
{"r":"A","d":"2015-12-07","o":3,"p1":3,"p2":4,"p3":4,"p4":4},
{"r":"A","d":"2015-12-14","o":3,"p1":3,"p2":3,"p3":3,"p4":3},
{"r":"A","d":"2015-12-21","o":null,"p1":null,"p2":null,"p3":null,"p4":null},
{"r":"A","d":"2016-02-08","o":7,"p1":8,"p2":6,"p3":6,"p4":6},
{"r":"A","d":"2016-02-15","o":6,"p1":8,"p2":9,"p3":6,"p4":7},
{"r":"A","d":"2016-02-22","o":7,"p1":8,"p2":8,"p3":7,"p4":7},
{"r":"A","d":"2016-02-29","o":6,"p1":8,"p2":8,"p3":8,"p4":7},
{"r":"A","d":"2016-03-07","o":5,"p1":5,"p2":5,"p3":4,"p4":1},
{"r":"A","d":"2016-03-14","o":4,"p1":4,"p2":4,"p3":5,"p4":5},
{"r":"A","d":"2016-03-21","o":2,"p1":4,"p2":4,"p3":4,"p4":5},
{"r":"A","d":"2016-03-28","o":1,"p1":1,"p2":1,"p3":1,"p4":5},
{"r":"A","d":"2016-04-04","o":null,"p1":null,"p2":null,"p3":null,"p4":null},
{"r":"A","d":"2016-10-31","o":3,"p1":3,"p2":4,"p3":4,"p4":4},
{"r":"A","d":"2016-11-07","o":3,"p1":3,"p2":4,"p3":4,"p4":4},
{"r":"A","d":"2016-11-14","o":3,"p1":3,"p2":4,"p3":4,"p4":4},
{"r":"A","d":"2016-11-21","o":3,"p1":3,"p2":4,"p3":4,"p4":4},
{"r":"A","d":"2016-11-28","o":3,"p1":3,"p2":4,"p3":4,"p4":4},
{"r":"A","d":"2016-12-05","o":3,"p1":3,"p2":3,"p3":4,"p4":4},
{"r":"A","d":"2016-12-12","o":4,"p1":4,"p2":4,"p3":3,"p4":3},
{"r":"A","d":"2016-12-19","o":4,"p1":4,"p2":4,"p3":4,"p4":4},
{"r":"A","d":"2016-12-26","o":1,"p1":4,"p2":1,"p3":4,"p4":4},
{"r":"A","d":"2017-01-02","o":4,"p1":1,"p2":5,"p3":4,"p4":7},
{"r":"A","d":"2017-01-09","o":9,"p1":4,"p2":7,"p3":2,"p4":4},
{"r":"A","d":"2017-01-16","o":7,"p1":7,"p2":4,"p3":4,"p4":4},
{"r":"A","d":"2017-01-23","o":7,"p1":7,"p2":7,"p3":6,"p4":8},
{"r":"A","d":"2017-01-30","o":6,"p1":7,"p2":8,"p3":8,"p4":8},
{"r":"A","d":"2017-02-06","o":5,"p1":8,"p2":8,"p3":8,"p4":8},
{"r":"A","d":"2017-02-13","o":4,"p1":5,"p2":6,"p3":4,"p4":8},
{"r":"A","d":"2017-02-20","o":3,"p1":3,"p2":5,"p3":7,"p4":5},
{"r":"A","d":"2017-02-27","o":2,"p1":3,"p2":1,"p3":1,"p4":2},
{"r":"A","d":"2017-03-06","o":2,"p1":1,"p2":1,"p3":2,"p4":2},
{"r":"A","d":"2017-03-13","o":2,"p1":1,"p2":2,"p3":2,"p4":2},
{"r":"A","d":"2017-03-20","o":2,"p1":2,"p2":2,"p3":2,"p4":2},
{"r":"A","d":"2017-03-27","o":2,"p1":2,"p2":2,"p3":2,"p4":2},
{"r":"A","d":"2017-04-03","o":1,"p1":2,"p2":2,"p3":2,"p4":2},
{"r":"A","d":"2017-04-10","o":null,"p1":null,"p2":null,"p3":null,"p4":null},
{"r":"A","d":"2017-10-30","o":3,"p1":3,"p2":3,"p3":3,"p4":3},
{"r":"A","d":"2017-11-06","o":3,"p1":3,"p2":3,"p3":3,"p4":3},
{"r":"A","d":"2017-11-13","o":3,"p1":3,"p2":3,"p3":3,"p4":3},
{"r":"A","d":"2017-11-20","o":3,"p1":3,"p2":3,"p3":3,"p4":4},
{"r":"A","d":"2017-11-27","o":3,"p1":3,"p2":3,"p3":3,"p4":4},
{"r":"A","d":"2017-12-04","o":3,"p1":3,"p2":3,"p3":3,"p4":3},
{"r":"A","d":"2017-12-11","o":4,"p1":3,"p2":3,"p3":3,"p4":3},
{"r":"A","d":"2017-12-18","o":3,"p1":4,"p2":3,"p3":3,"p4":3},
{"r":"A","d":"2017-12-25","o":1,"p1":4,"p2":4,"p3":4,"p4":4}
]},
"transform": [
  {"fold": ["p1", "p2", "p3", "p4"], "as": ["h", "p"]},
  {"fold": ["o", "p"], "as": ["cat", "v"]},
  {"lookup": "h", "from": {"data": {"values": [{"h": "p1", "hl": "1-week"}, {"h": "p2", "hl": "2-week"}, {"h": "p3", "hl": "3-week"}, {"h": "p4", "hl": "4-week"}]}, "key": "h", "fields": ["hl"]}},
  {"lookup": "r", "from": {"data": {"values": [{"r": "M", "rl": "Moldova"}, {"r": "U", "rl": "USA"}, {"r": "N", "rl": "Netherlands"}, {"r": "A", "rl": "Austria"}]}, "key": "r", "fields": ["rl"]}}
],
"facet": {
  "row": {"field": "r", "type": "nominal", "sort": ["M", "U", "N", "A"], "title": "Incidence level",
          "header": {"labels": false, "titleOrient": "left", "titleFontSize": 81, "titleFontWeight": "normal", "titleColor": "#000000", "titleFont": "Liberation Sans", "titlePadding": 2}},
  "column": {"field": "h", "type": "nominal", "sort": ["p1", "p2", "p3", "p4"], "title": "Year",
          "header": {"labels": false, "titleOrient": "bottom", "titleFontSize": 81, "titleFontWeight": "normal", "titleColor": "#000000", "titleFont": "Liberation Sans", "titlePadding": 2}}
},
"spacing": {"row": 18, "column": 20},
"bounds": "flush",
"spec": {
  "width": 930,
  "height": 562,
  "layer": [
    {
      "mark": {"type": "line", "strokeWidth": 4.5, "invalid": "break-paths-filter-domains"},
      "encoding": {
        "x": {
          "field": "d", "type": "temporal",
          "scale": {"type": "utc", "nice": false, "domain": [{"year": 2014, "month": 11, "date": 5, "hours": 12, "utc": true}, {"year": 2018, "month": 2, "date": 17, "hours": 12, "utc": true}]},
          "axis": {
            "title": null,
            "values": [
              {"year": 2015, "month": 1, "date": 1, "utc": true},
              {"year": 2015, "month": 7, "date": 2, "utc": true},
              {"year": 2016, "month": 1, "date": 1, "utc": true},
              {"year": 2016, "month": 7, "date": 2, "utc": true},
              {"year": 2017, "month": 1, "date": 1, "utc": true},
              {"year": 2017, "month": 7, "date": 2, "utc": true},
              {"year": 2018, "month": 1, "date": 1, "utc": true}
            ],
            "labelExpr": "utcmonth(datum.value) == 0 ? utcFormat(datum.value, '%Y') : ''",
            "labelFontSize": {"condition": {"test": "utcmonth(datum.value) == 0", "value": 42}, "value": 0},
            "gridWidth": {"condition": {"test": "utcmonth(datum.value) == 0", "value": 2.8}, "value": 1.4},
            "tickOpacity": {"condition": {"test": "utcmonth(datum.value) == 0", "value": 1}, "value": 0},
            "labelPadding": 4, "labelFlush": false
          }
        },
        "y": {
          "field": "v", "type": "quantitative",
          "scale": {"domain": [0.55, 10.45], "nice": false, "zero": false},
          "axis": {
            "title": null,
            "values": [1, 1.5, 2, 2.5, 3, 3.5, 4, 4.5, 5, 5.5, 6, 6.5, 7, 7.5, 8, 8.5, 9, 9.5, 10],
            "labelExpr": "datum.value % 1 == 0 ? format(datum.value, 'd') : ''",
            "labelFontSize": {"condition": {"test": "datum.value % 1 == 0", "value": 56}, "value": 0},
            "gridWidth": {"condition": {"test": "datum.value % 1 == 0", "value": 2.8}, "value": 1.4},
            "tickOpacity": {"condition": {"test": "datum.value % 1 == 0", "value": 1}, "value": 0},
            "labelPadding": 6
          }
        },
        "color": {
          "field": "cat", "type": "nominal",
          "scale": {"domain": ["o", "p"], "range": ["#E08214", "#8073AC"]},
          "legend": {"title": "Category", "orient": "none", "legendX": 1270, "legendY": 2506, "direction": "horizontal", "titleOrient": "left", "titleFontSize": 81, "titlePadding": 42, "titleLimit": 2000, "labelFontSize": 64, "labelLimit": 2000, "labelOffset": 39, "columnPadding": 38, "symbolSize": 260, "labelExpr": "datum.label == 'o' ? 'Observation' : 'Prediction'"}
        }
      }
    },
    {
      "mark": {"type": "point", "filled": true, "opacity": 1, "size": 170},
      "encoding": {
        "x": {"field": "d", "type": "temporal"},
        "y": {"field": "v", "type": "quantitative"},
        "color": {
          "field": "cat", "type": "nominal",
          "scale": {"domain": ["o", "p"], "range": ["#E08214", "#8073AC"]},
          "legend": {"title": "Category", "orient": "none", "legendX": 1270, "legendY": 2506, "direction": "horizontal", "titleOrient": "left", "titleFontSize": 81, "titlePadding": 42, "titleLimit": 2000, "labelFontSize": 64, "labelLimit": 2000, "labelOffset": 39, "columnPadding": 38, "symbolSize": 260, "labelExpr": "datum.label == 'o' ? 'Observation' : 'Prediction'"}
        },
        "shape": {
          "field": "cat", "type": "nominal",
          "scale": {"domain": ["o", "p"], "range": ["circle", "triangle-up"]},
          "legend": {"title": "Category", "orient": "none", "legendX": 1270, "legendY": 2506, "direction": "horizontal", "titleOrient": "left", "titleFontSize": 81, "titlePadding": 42, "titleLimit": 2000, "labelFontSize": 64, "labelLimit": 2000, "labelOffset": 39, "columnPadding": 38, "symbolSize": 260, "labelExpr": "datum.label == 'o' ? 'Observation' : 'Prediction'"}
        }
      }
    },
    {
      "mark": {"type": "rect", "stroke": "#333333", "strokeWidth": 2},
      "encoding": {
        "y": {"datum": 10.45},
        "y2": {"datum": 12.0},
        "color": {"value": "#D9D9D9"},
        "opacity": {"condition": {"test": "datum.r == 'M' && datum.cat == 'o' && utcyear(datum.d) == 2014", "value": 1}, "value": 0}
      }
    },
    {
      "mark": {"type": "text", "fontSize": 64, "align": "center", "baseline": "middle"},
      "encoding": {
        "y": {"datum": 11.225},
        "text": {"condition": {"test": "datum.r == 'M' && datum.cat == 'o' && utcyear(datum.d) == 2014", "field": "hl"}, "value": ""},
        "color": {"value": "#1A1A1A"}
      }
    },
    {
      "mark": {"type": "rect", "stroke": "#333333", "strokeWidth": 2},
      "encoding": {
        "x": {"datum": {"year": 2018, "month": 2, "date": 19, "hours": 12, "utc": true}},
        "x2": {"datum": {"year": 2018, "month": 6, "date": 9, "hours": 12, "utc": true}},
        "color": {"value": "#D9D9D9"},
        "opacity": {"condition": {"test": "datum.h == 'p4' && datum.cat == 'o' && utcyear(datum.d) == 2017 && utcmonth(datum.d) == 11 && utcdate(datum.d) == 25", "value": 1}, "value": 0}
      }
    },
    {
      "mark": {"type": "text", "fontSize": 64, "align": "center", "baseline": "middle", "angle": 90},
      "encoding": {
        "x": {"datum": {"year": 2018, "month": 4, "date": 15, "utc": true}},
        "text": {"condition": {"test": "datum.h == 'p4' && datum.cat == 'o' && utcyear(datum.d) == 2017 && utcmonth(datum.d) == 11 && utcdate(datum.d) == 25", "field": "rl"}, "value": ""},
        "color": {"value": "#1A1A1A"}
      }
    }
  ]
},
"config": {
  "font": "Liberation Sans",
  "view": {"stroke": "#333333", "strokeWidth": 2},
  "axis": {"domain": false, "grid": true, "gridColor": "#EBEBEB", "tickColor": "#333333", "tickWidth": 2, "tickSize": 10, "labelColor": "#4D4D4D", "titleColor": "#000000", "titleFontWeight": "normal", "labelOverlap": false, "labelFont": "Liberation Sans", "titleFont": "Liberation Sans"},
  "legend": {"titleFontWeight": "normal", "titleColor": "#000000", "labelColor": "#000000", "labelFont": "Liberation Sans", "titleFont": "Liberation Sans"}
}
}
